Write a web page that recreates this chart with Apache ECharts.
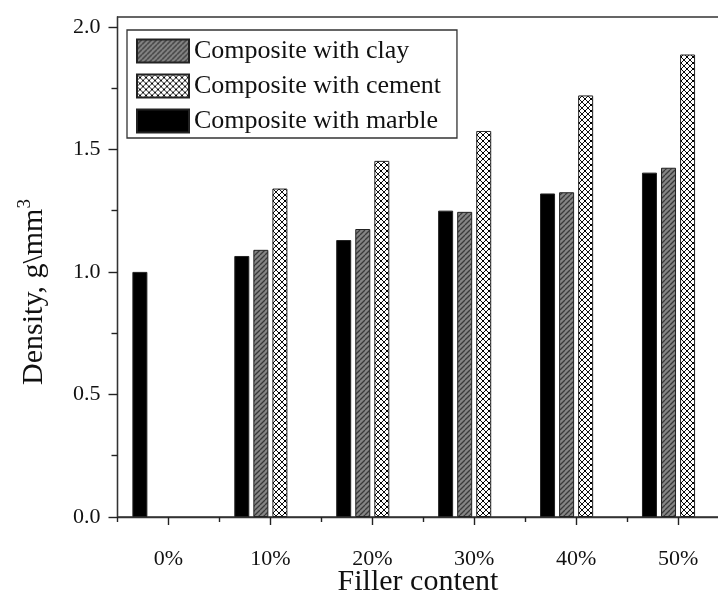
<!DOCTYPE html>
<html>
<head>
<meta charset="utf-8">
<script src="https://cdn.jsdelivr.net/npm/echarts@6/dist/echarts.min.js"></script>
<style>
  html, body { margin: 0; padding: 0; background: #fff; }
  #chart { width: 718px; height: 602px; }
</style>
</head>
<body>
<div id="chart"></div>
<script>
const categories = ['0%', '10%', '20%', '30%', '40%', '50%'];
const marble = [1.0, 1.065, 1.13, 1.25, 1.32, 1.405];
const clay = [null, 1.09, 1.175, 1.245, 1.325, 1.425];
const cement = [null, 1.34, 1.453, 1.575, 1.72, 1.887];
const spare = [null, null, null, null, null, null]; // empty 4th slot of each group
const yTicks = [0, 0.5, 1.0, 1.5, 2.0];
const yMinorTicks = [0.25, 0.75, 1.25, 1.75];

const serif = "'Liberation Serif', 'Times New Roman', serif";

// diagonal hatch for clay
function hatchPattern() {
    const c = document.createElement('canvas');
    c.width = 5; c.height = 5;
    const g = c.getContext('2d');
    g.fillStyle = '#858585';
    g.fillRect(0, 0, 5, 5);
    g.strokeStyle = '#3a3a3a';
    g.lineWidth = 1.3;
    g.beginPath();
    for (let k = -5; k <= 5; k += 5) {
        g.moveTo(k, 5);
        g.lineTo(k + 5, 0);
    }
    g.stroke();
    return c;
}

// cross hatch for cement
function crossPattern() {
    const c = document.createElement('canvas');
    c.width = 6; c.height = 6;
    const g = c.getContext('2d');
    g.fillStyle = '#fff';
    g.fillRect(0, 0, 6, 6);
    g.strokeStyle = '#111';
    g.lineWidth = 1;
    g.beginPath();
    g.moveTo(0, 0); g.lineTo(6, 6);
    g.moveTo(0, 6); g.lineTo(6, 0);
    g.stroke();
    g.fillStyle = '#000';
    g.fillRect(2, 2, 2, 2);
    return c;
}

const chart = echarts.init(document.getElementById('chart'));

const barBase = { type: 'bar', barWidth: 15, barGap: '27%' };
const border = { borderColor: '#222', borderWidth: 1 };

chart.setOption({
    animation: false,
    backgroundColor: '#fff',
    grid: {
        left: 117.5, right: -11, top: 17, bottom: 85,
        show: true, borderColor: '#333', borderWidth: 1.3,
        outerBoundsMode: 'none'
    },
    legend: {
        data: ['Composite with clay', 'Composite with cement', 'Composite with marble'],
        orient: 'vertical',
        left: 127, top: 30,
        itemWidth: 52, itemHeight: 23, itemGap: 9,
        icon: 'rect',
        borderColor: '#333', borderWidth: 1.3,
        padding: [8, 16, 4, 9],
        textStyle: { fontFamily: serif, fontSize: 26, color: '#111', lineHeight: 23 }
    },
    xAxis: [
        {
            type: 'category',
            data: categories,
            axisLine: { lineStyle: { color: '#333', width: 1.3 } },
            axisTick: { show: true, alignWithLabel: true, length: 8, lineStyle: { color: '#222', width: 1.4 } },
            axisLabel: { fontFamily: serif, fontSize: 22, color: '#111', margin: 31 },
            splitLine: { show: false }
        },
        {
            // short ticks between the groups
            type: 'category',
            data: categories,
            position: 'bottom',
            axisLine: { show: false },
            axisTick: { show: true, length: 5, lineStyle: { color: '#222', width: 1.4 } },
            axisLabel: { show: false },
            splitLine: { show: false }
        }
    ],
    yAxis: [
        {
            type: 'value',
            min: 0, max: 2.04,
            axisLine: { show: true, lineStyle: { color: '#333', width: 1.3 } },
            axisTick: { show: true, length: 9, customValues: yTicks, lineStyle: { color: '#222', width: 1.4 } },
            axisLabel: {
                customValues: yTicks,
                formatter: v => v.toFixed(1),
                fontFamily: serif, fontSize: 22, color: '#111', margin: 17
            },
            splitLine: { show: false }
        },
        {
            // minor ticks
            type: 'value',
            min: 0, max: 2.04,
            position: 'left',
            axisLine: { show: false },
            axisTick: { show: true, length: 6, customValues: yMinorTicks, lineStyle: { color: '#222', width: 1.4 } },
            axisLabel: { show: false },
            splitLine: { show: false }
        }
    ],
    graphic: [
        {
            type: 'text',
            x: 34, y: 292,
            rotation: Math.PI / 2,
            style: {
                text: '{a|Density, g\\mm}{s|3}',
                align: 'center',
                verticalAlign: 'middle',
                rich: {
                    a: { fontFamily: serif, fontSize: 30, fill: '#111', lineHeight: 36 },
                    s: { fontFamily: serif, fontSize: 19, fill: '#111', verticalAlign: 'top', lineHeight: 36 }
                }
            }
        },
        {
            type: 'text',
            x: 418, y: 582,
            style: {
                text: 'Filler content',
                align: 'center',
                verticalAlign: 'middle',
                fontFamily: serif, fontSize: 30, fill: '#111'
            }
        }
    ],
    series: [
        Object.assign({}, barBase, {
            name: 'Composite with marble', data: marble,
            itemStyle: Object.assign({ color: '#000' }, border)
        }),
        Object.assign({}, barBase, {
            name: 'Composite with clay', data: clay,
            itemStyle: Object.assign({ color: { image: hatchPattern(), repeat: 'repeat' } }, border)
        }),
        Object.assign({}, barBase, {
            name: 'Composite with cement', data: cement,
            itemStyle: Object.assign({ color: { image: crossPattern(), repeat: 'repeat' } }, border)
        }),
        Object.assign({}, barBase, { name: 'spare', data: spare })
    ]
});
</script>
</body>
</html>
